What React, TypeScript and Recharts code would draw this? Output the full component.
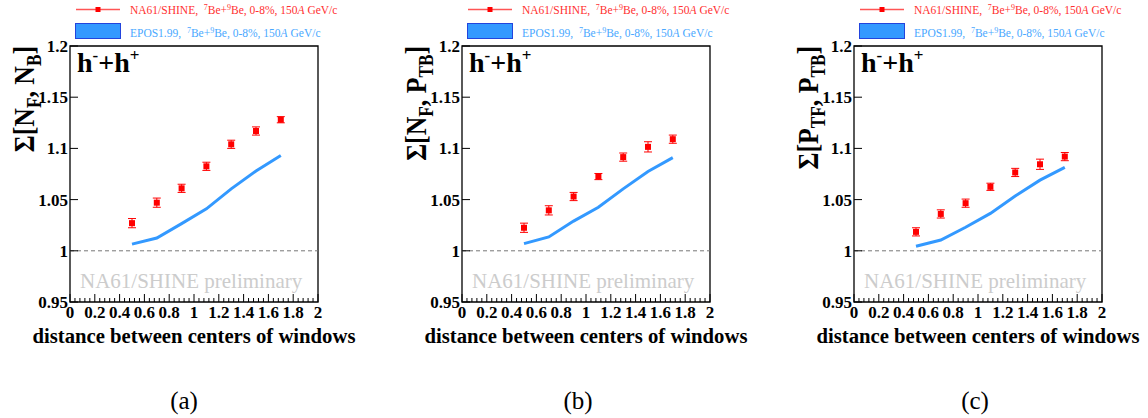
import React from "react";
import {
  ComposedChart,
  Line,
  Scatter,
  ErrorBar,
  XAxis,
  YAxis,
  ReferenceLine,
  ReferenceArea,
} from "recharts";

const distance = [0.5, 0.7, 0.9, 1.1, 1.3, 1.5, 1.7];

const na61A = [1.027, 1.047, 1.061, 1.0825, 1.104, 1.117, 1.128];
const errA = [0.0045, 0.0045, 0.004, 0.004, 0.004, 0.004, 0.003];
const eposA = [1.0065, 1.0125, 1.0265, 1.041, 1.0605, 1.078, 1.093];

const na61B = [1.0225, 1.0395, 1.053, 1.0725, 1.0915, 1.1015, 1.109];
const errB = [0.0045, 0.0045, 0.004, 0.003, 0.004, 0.005, 0.004];
const eposB = [1.007, 1.0135, 1.029, 1.0425, 1.0605, 1.0775, 1.091];

const na61C = [1.0185, 1.036, 1.0465, 1.0625, 1.0765, 1.0845, 1.092];
const errC = [0.004, 0.004, 0.004, 0.0035, 0.004, 0.005, 0.004];
const eposC = [1.0045, 1.0105, 1.023, 1.0365, 1.0535, 1.069, 1.0815];

const yTicks = [0.95, 1, 1.05, 1.1, 1.15, 1.2];
const xMajor = [0, 0.2, 0.4, 0.6, 0.8, 1, 1.2, 1.4, 1.6, 1.8, 2];

// minor ticks every 0.04 between the major ones
const xAll: number[] = [];
xMajor.forEach((m, i) => {
  xAll.push(m);
  if (i < xMajor.length - 1) {
    for (let k = 1; k < 5; k++) xAll.push(Math.round((m + k * 0.04) * 100) / 100);
  }
});

const SERIF = "Liberation Serif";
const PLOT_W = 248;
const PLOT_TOP = 46;
const PLOT_H = 256;
const H = 418;

type TitlePart = { t: string; sub?: boolean };

const panels = [
  {
    id: "a",
    left: 0,
    width: 380,
    plotLeft: 70,
    na61: na61A,
    err: errA,
    epos: eposA,
    title: [
      { t: "Σ[N" },
      { t: "F", sub: true },
      { t: ", N" },
      { t: "B", sub: true },
      { t: "]" },
    ] as TitlePart[],
    caption: "(a)",
    captionX: 184,
  },
  {
    id: "b",
    left: 380,
    width: 380,
    plotLeft: 82,
    na61: na61B,
    err: errB,
    epos: eposB,
    title: [
      { t: "Σ[N" },
      { t: "F", sub: true },
      { t: ", P" },
      { t: "TB", sub: true },
      { t: "]" },
    ] as TitlePart[],
    caption: "(b)",
    captionX: 198,
  },
  {
    id: "c",
    left: 760,
    width: 388,
    plotLeft: 94,
    na61: na61C,
    err: errC,
    epos: eposC,
    title: [
      { t: "Σ[P" },
      { t: "TF", sub: true },
      { t: ", P" },
      { t: "TB", sub: true },
      { t: "]" },
    ] as TitlePart[],
    caption: "(c)",
    captionX: 215,
  },
];

const YTick = (props: any) => {
  const { x, y, payload } = props;
  return (
    <g>
      <line x1={x} x2={x + 8} y1={y} y2={y} stroke="#000" strokeWidth={1} />
      <text x={x - 2} y={y} dy={6} textAnchor="end" fontFamily={SERIF} fontWeight="bold" fontSize={17} fill="#000">
        {String(payload.value)}
      </text>
    </g>
  );
};

const XTick = (props: any) => {
  const { x, y, payload } = props;
  const v = payload.value as number;
  const major = xMajor.some((m) => Math.abs(m - v) < 1e-6);
  return (
    <g>
      <line x1={x} x2={x} y1={y} y2={y - (major ? 8 : 4)} stroke="#000" strokeWidth={1} />
      {major && (
        <text x={x} y={y + 16} textAnchor="middle" fontFamily={SERIF} fontWeight="bold" fontSize={17} fill="#000">
          {String(v)}
        </text>
      )}
    </g>
  );
};

const Square = (props: any) => {
  const { cx, cy } = props;
  return <rect x={cx - 3} y={cy - 3} width={6} height={6} fill="#ff0000" />;
};

const Sup = ({ children }: { children: React.ReactNode }) => (
  <tspan dy={-4} fontSize={8}>
    {children}
  </tspan>
);

const Panel = ({ p }: { p: (typeof panels)[number] }) => {
  const data = distance.map((d, i) => ({
    d,
    na61: p.na61[i],
    err: p.err[i],
    epos: p.epos[i],
  }));
  const right = p.width - p.plotLeft - PLOT_W;
  const pl = p.plotLeft;
  return (
    <div style={{ position: "absolute", left: p.left, top: 0, width: p.width, height: H }}>
      <ComposedChart
        width={p.width}
        height={H}
        data={data}
        margin={{ top: PLOT_TOP, right, bottom: H - PLOT_TOP - PLOT_H - 30, left: 0 }}
      >
        <XAxis
          dataKey="d"
          type="number"
          domain={[0, 2]}
          ticks={xAll}
          interval={0}
          axisLine={false}
          tickLine={false}
          tickSize={0}
          tickMargin={0}
          height={30}
          tick={<XTick />}
        />
        <YAxis
          type="number"
          domain={[0.95, 1.2]}
          ticks={yTicks}
          interval={0}
          axisLine={false}
          tickLine={false}
          tickSize={0}
          tickMargin={0}
          width={pl}
          allowDataOverflow
          tick={<YTick />}
        />
        <ReferenceArea
          x1={0}
          x2={2}
          y1={0.95}
          y2={1.2}
          fill="none"
          fillOpacity={0}
          stroke="#000"
          strokeWidth={1.3}
        />
        <ReferenceLine y={1} stroke="#777" strokeDasharray="4 3" strokeWidth={1} />
        <Line
          type="linear"
          dataKey="epos"
          stroke="#3399ff"
          strokeWidth={3}
          dot={false}
          isAnimationActive={false}
        />
        <Scatter dataKey="na61" shape={<Square />} isAnimationActive={false}>
          <ErrorBar dataKey="err" direction="y" width={4} stroke="#ff0000" strokeWidth={1} />
        </Scatter>
      </ComposedChart>
      <svg
        width={p.width}
        height={H}
        style={{ position: "absolute", left: 0, top: 0, pointerEvents: "none" }}
        fontFamily={SERIF}
      >
        {/* legend */}
        <line x1={pl + 6} x2={pl + 50} y1={9.5} y2={9.5} stroke="#ff5555" strokeWidth={1.5} />
        <rect x={pl + 25.5} y={7} width={5} height={5} fill="#ff0000" />
        <text x={pl + 60} y={14} fontSize={11.5} fill="#ff3030" fontFamily={SERIF}>
          NA61/SHINE,{"\u00a0\u00a0"}
          <Sup>7</Sup>
          <tspan dy={4}>Be+</tspan>
          <Sup>9</Sup>
          <tspan dy={4}>Be, 0-8%, 150</tspan>
          <tspan fontStyle="italic">A</tspan>
          <tspan> GeV/c</tspan>
        </text>
        <rect x={pl + 5.5} y={23.5} width={45} height={15} fill="#3399ff" stroke="#2244dd" strokeWidth={1} />
        <text x={pl + 60} y={37} fontSize={11.5} fill="#4aa8ff" fontFamily={SERIF}>
          EPOS1.99,{"\u00a0\u00a0"}
          <Sup>7</Sup>
          <tspan dy={4}>Be+</tspan>
          <Sup>9</Sup>
          <tspan dy={4}>Be, 0-8%, 150</tspan>
          <tspan fontStyle="italic">A</tspan>
          <tspan> GeV/c</tspan>
        </text>
        {/* particle label */}
        <text x={pl + 7} y={72} fontSize={28} fontWeight="bold" fill="#000" fontFamily={SERIF}>
          h<tspan dy={-11} fontSize={17}>-</tspan>
          <tspan dy={11}>+h</tspan>
          <tspan dy={-11} fontSize={17}>+</tspan>
        </text>
        <text x={pl + 10} y={288} fontSize={21} fill="#cccccc" fontFamily={SERIF}>
          NA61/SHINE preliminary
        </text>
        {/* y title */}
        <text
          transform={`translate(${pl - 36},${PLOT_TOP}) rotate(-90) scale(0.86,1)`}
          textAnchor="end"
          fontSize={30}
          fontWeight="bold"
          fill="#000"
          fontFamily={SERIF}
        >
          {p.title.map((part, i) => (
            <tspan key={i} dy={part.sub ? 7 : i > 0 && p.title[i - 1].sub ? -7 : 0} fontSize={part.sub ? 20 : 30}>
              {part.t}
            </tspan>
          ))}
        </text>
        {/* x title */}
        <text x={pl + PLOT_W / 2} y={343} textAnchor="middle" fontSize={20.7} fontWeight="bold" fill="#000" fontFamily={SERIF}>
          distance between centers of windows
        </text>
        <text x={p.captionX} y={409} textAnchor="middle" fontSize={25} fill="#000" fontFamily={SERIF}>
          {p.caption}
        </text>
      </svg>
    </div>
  );
};

export default function App() {
  return (
    <div
      style={{
        position: "absolute",
        left: 0,
        top: 0,
        width: 1148,
        height: H,
        background: "#fff",
        fontFamily: SERIF,
      }}
    >
      {panels.map((p) => (
        <Panel key={p.id} p={p} />
      ))}
    </div>
  );
}
